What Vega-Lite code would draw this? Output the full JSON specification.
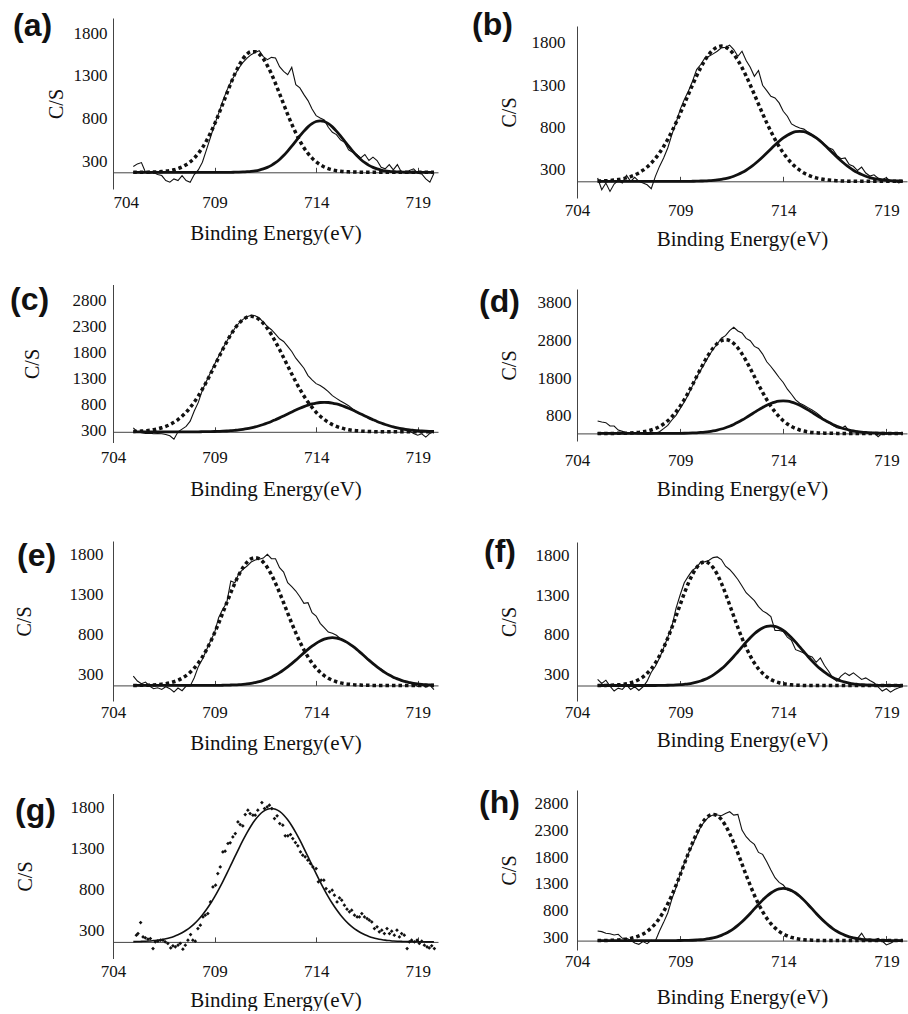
{
  "$schema": "https://vega.github.io/schema/vega-lite/v6.json",
  "background": "white",
  "padding": {"left": 10, "top": 8, "right": 4, "bottom": 0},
  "config": {
    "view": {"stroke": null},
    "axis": {"grid": false, "ticks": false, "domainColor": "#444", "domainWidth": 1, "tickColor": "#444", "labelFont": "Liberation Serif", "labelFontSize": 17, "labelColor": "#111", "titleFont": "Liberation Serif", "titleFontSize": 21, "titleFontWeight": "normal", "titleColor": "#111", "labelOverlap": false, "labelFlush": false, "format": "d"},
    "axisY": {"titleFontSize": 20},
    "axisX": {"ticks": true, "tickSize": -5},
    "title": {"font": "Liberation Sans", "fontSize": 32, "fontWeight": "bold", "anchor": "start", "frame": "group", "color": "#111"},
    "line": {"color": "#111"}
  },
  "datasets": {
    "a": [
      {"E":705.0,"obs":242,"p1":175,"p2":175},{"E":705.2,"obs":273,"p1":175,"p2":175},{"E":705.4,"obs":288,"p1":175,"p2":175},{"E":705.6,"obs":176,"p1":176,"p2":175},{"E":705.8,"obs":164,"p1":177,"p2":175},
      {"E":706.0,"obs":172,"p1":178,"p2":175},{"E":706.2,"obs":148,"p1":180,"p2":175},{"E":706.4,"obs":137,"p1":183,"p2":175},{"E":706.6,"obs":79,"p1":188,"p2":175},{"E":706.8,"obs":59,"p1":194,"p2":175},
      {"E":707.0,"obs":98,"p1":204,"p2":175},{"E":707.2,"obs":79,"p1":218,"p2":175},{"E":707.4,"obs":137,"p1":237,"p2":175},{"E":707.6,"obs":79,"p1":263,"p2":175},{"E":707.8,"obs":59,"p1":297,"p2":175},
      {"E":708.0,"obs":148,"p1":340,"p2":175},{"E":708.2,"obs":203,"p1":395,"p2":175},{"E":708.4,"obs":292,"p1":461,"p2":175},{"E":708.6,"obs":436,"p1":541,"p2":175},{"E":708.8,"obs":584,"p1":633,"p2":175},
      {"E":709.0,"obs":731,"p1":737,"p2":175},{"E":709.2,"obs":863,"p1":850,"p2":175},{"E":709.4,"obs":1003,"p1":970,"p2":175},{"E":709.6,"obs":1128,"p1":1092,"p2":175},{"E":709.8,"obs":1225,"p1":1211,"p2":175},
      {"E":710.0,"obs":1314,"p1":1323,"p2":176},{"E":710.2,"obs":1392,"p1":1420,"p2":177},{"E":710.4,"obs":1458,"p1":1499,"p2":179},{"E":710.6,"obs":1508,"p1":1554,"p2":182},{"E":710.8,"obs":1547,"p1":1582,"p2":186},
      {"E":711.0,"obs":1574,"p1":1582,"p2":192},{"E":711.2,"obs":1594,"p1":1554,"p2":201},{"E":711.4,"obs":1524,"p1":1499,"p2":214},{"E":711.6,"obs":1489,"p1":1420,"p2":232},{"E":711.8,"obs":1516,"p1":1323,"p2":256},
      {"E":712.0,"obs":1508,"p1":1211,"p2":287},{"E":712.2,"obs":1407,"p1":1092,"p2":325},{"E":712.4,"obs":1353,"p1":970,"p2":370},{"E":712.6,"obs":1314,"p1":850,"p2":422},{"E":712.8,"obs":1399,"p1":737,"p2":479},
      {"E":713.0,"obs":1197,"p1":633,"p2":539},{"E":713.2,"obs":1159,"p1":541,"p2":599},{"E":713.4,"obs":1081,"p1":461,"p2":655},{"E":713.6,"obs":1011,"p1":395,"p2":705},{"E":713.8,"obs":914,"p1":340,"p2":743},
      {"E":714.0,"obs":836,"p1":297,"p2":767},{"E":714.2,"obs":809,"p1":263,"p2":775},{"E":714.4,"obs":786,"p1":237,"p2":767},{"E":714.6,"obs":700,"p1":218,"p2":743},{"E":714.8,"obs":642,"p1":204,"p2":705},
      {"E":715.0,"obs":615,"p1":194,"p2":655},{"E":715.2,"obs":553,"p1":188,"p2":599},{"E":715.4,"obs":525,"p1":183,"p2":539},{"E":715.6,"obs":436,"p1":180,"p2":479},{"E":715.8,"obs":409,"p1":178,"p2":422},
      {"E":716.0,"obs":382,"p1":177,"p2":370},{"E":716.2,"obs":343,"p1":176,"p2":325},{"E":716.4,"obs":382,"p1":175,"p2":287},{"E":716.6,"obs":312,"p1":175,"p2":256},{"E":716.8,"obs":351,"p1":175,"p2":232},
      {"E":717.0,"obs":312,"p1":175,"p2":214},{"E":717.2,"obs":234,"p1":175,"p2":201},{"E":717.4,"obs":215,"p1":175,"p2":192},{"E":717.6,"obs":265,"p1":175,"p2":186},{"E":717.8,"obs":203,"p1":175,"p2":182},
      {"E":718.0,"obs":265,"p1":175,"p2":179},{"E":718.2,"obs":176,"p1":175,"p2":177},{"E":718.4,"obs":164,"p1":175,"p2":176},{"E":718.6,"obs":195,"p1":175,"p2":175},{"E":718.8,"obs":215,"p1":175,"p2":175},
      {"E":719.0,"obs":164,"p1":175,"p2":175},{"E":719.2,"obs":156,"p1":175,"p2":175},{"E":719.4,"obs":98,"p1":175,"p2":175},{"E":719.6,"obs":59,"p1":175,"p2":175},{"E":719.8,"obs":164,"p1":175,"p2":175}
    ],
    "b": [
      {"E":705.0,"obs":201,"p1":165,"p2":162},{"E":705.2,"obs":63,"p1":167,"p2":162},{"E":705.4,"obs":142,"p1":169,"p2":162},{"E":705.6,"obs":43,"p1":172,"p2":162},{"E":705.8,"obs":130,"p1":177,"p2":162},
      {"E":706.0,"obs":170,"p1":183,"p2":162},{"E":706.2,"obs":142,"p1":192,"p2":162},{"E":706.4,"obs":233,"p1":203,"p2":162},{"E":706.6,"obs":162,"p1":218,"p2":162},{"E":706.8,"obs":209,"p1":238,"p2":162},
      {"E":707.0,"obs":162,"p1":262,"p2":162},{"E":707.2,"obs":142,"p1":294,"p2":162},{"E":707.4,"obs":122,"p1":332,"p2":162},{"E":707.6,"obs":75,"p1":378,"p2":162},{"E":707.8,"obs":221,"p1":434,"p2":162},
      {"E":708.0,"obs":339,"p1":499,"p2":162},{"E":708.2,"obs":438,"p1":574,"p2":162},{"E":708.4,"obs":557,"p1":659,"p2":162},{"E":708.6,"obs":715,"p1":753,"p2":162},{"E":708.8,"obs":853,"p1":854,"p2":162},
      {"E":709.0,"obs":1011,"p1":963,"p2":162},{"E":709.2,"obs":1129,"p1":1075,"p2":162},{"E":709.4,"obs":1228,"p1":1190,"p2":162},{"E":709.6,"obs":1346,"p1":1302,"p2":163},{"E":709.8,"obs":1484,"p1":1409,"p2":164},
      {"E":710.0,"obs":1544,"p1":1508,"p2":166},{"E":710.2,"obs":1623,"p1":1594,"p2":167},{"E":710.4,"obs":1642,"p1":1665,"p2":170},{"E":710.6,"obs":1670,"p1":1718,"p2":174},{"E":710.8,"obs":1701,"p1":1751,"p2":179},
      {"E":711.0,"obs":1741,"p1":1762,"p2":186},{"E":711.2,"obs":1749,"p1":1751,"p2":195},{"E":711.4,"obs":1773,"p1":1718,"p2":207},{"E":711.6,"obs":1721,"p1":1665,"p2":223},{"E":711.8,"obs":1642,"p1":1594,"p2":242},
      {"E":712.0,"obs":1701,"p1":1508,"p2":266},{"E":712.2,"obs":1591,"p1":1409,"p2":294},{"E":712.4,"obs":1512,"p1":1302,"p2":327},{"E":712.6,"obs":1405,"p1":1190,"p2":364},{"E":712.8,"obs":1473,"p1":1075,"p2":405},
      {"E":713.0,"obs":1299,"p1":963,"p2":450},{"E":713.2,"obs":1236,"p1":854,"p2":497},{"E":713.4,"obs":1169,"p1":753,"p2":545},{"E":713.6,"obs":1149,"p1":659,"p2":592},{"E":713.8,"obs":1090,"p1":574,"p2":636},
      {"E":714.0,"obs":991,"p1":499,"p2":675},{"E":714.2,"obs":932,"p1":434,"p2":708},{"E":714.4,"obs":841,"p1":378,"p2":733},{"E":714.6,"obs":813,"p1":332,"p2":749},{"E":714.8,"obs":793,"p1":294,"p2":754},
      {"E":715.0,"obs":780,"p1":262,"p2":749},{"E":715.2,"obs":745,"p1":238,"p2":733},{"E":715.4,"obs":715,"p1":218,"p2":708},{"E":715.6,"obs":680,"p1":203,"p2":675},{"E":715.8,"obs":650,"p1":192,"p2":636},
      {"E":716.0,"obs":600,"p1":183,"p2":592},{"E":716.2,"obs":560,"p1":177,"p2":545},{"E":716.4,"obs":540,"p1":172,"p2":497},{"E":716.6,"obs":470,"p1":169,"p2":450},{"E":716.8,"obs":430,"p1":167,"p2":405},
      {"E":717.0,"obs":440,"p1":165,"p2":364},{"E":717.2,"obs":360,"p1":164,"p2":327},{"E":717.4,"obs":340,"p1":163,"p2":294},{"E":717.6,"obs":290,"p1":162,"p2":266},{"E":717.8,"obs":330,"p1":162,"p2":242},
      {"E":718.0,"obs":260,"p1":162,"p2":223},{"E":718.2,"obs":225,"p1":162,"p2":207},{"E":718.4,"obs":240,"p1":162,"p2":195},{"E":718.6,"obs":200,"p1":162,"p2":186},{"E":718.8,"obs":185,"p1":162,"p2":179},
      {"E":719.0,"obs":205,"p1":162,"p2":174},{"E":719.2,"obs":160,"p1":162,"p2":170},{"E":719.4,"obs":170,"p1":162,"p2":167},{"E":719.6,"obs":145,"p1":162,"p2":166},{"E":719.8,"obs":160,"p1":162,"p2":164}
    ],
    "c": [
      {"E":705.0,"obs":358,"p1":287,"p2":280},{"E":705.2,"obs":281,"p1":290,"p2":280},{"E":705.4,"obs":261,"p1":294,"p2":280},{"E":705.6,"obs":249,"p1":301,"p2":280},{"E":705.8,"obs":255,"p1":309,"p2":280},
      {"E":706.0,"obs":242,"p1":321,"p2":280},{"E":706.2,"obs":249,"p1":337,"p2":280},{"E":706.4,"obs":242,"p1":358,"p2":280},{"E":706.6,"obs":229,"p1":385,"p2":280},{"E":706.8,"obs":204,"p1":419,"p2":280},
      {"E":707.0,"obs":139,"p1":462,"p2":280},{"E":707.2,"obs":281,"p1":516,"p2":280},{"E":707.4,"obs":332,"p1":580,"p2":280},{"E":707.6,"obs":384,"p1":657,"p2":280},{"E":707.8,"obs":486,"p1":748,"p2":280},
      {"E":708.0,"obs":679,"p1":851,"p2":281},{"E":708.2,"obs":846,"p1":969,"p2":281},{"E":708.4,"obs":1080,"p1":1099,"p2":282},{"E":708.6,"obs":1250,"p1":1240,"p2":283},{"E":708.8,"obs":1420,"p1":1390,"p2":284},
      {"E":709.0,"obs":1580,"p1":1546,"p2":286},{"E":709.2,"obs":1730,"p1":1704,"p2":289},{"E":709.4,"obs":1880,"p1":1860,"p2":292},{"E":709.6,"obs":2020,"p1":2009,"p2":296},{"E":709.8,"obs":2150,"p1":2146,"p2":302},
      {"E":710.0,"obs":2270,"p1":2266,"p2":309},{"E":710.2,"obs":2370,"p1":2364,"p2":317},{"E":710.4,"obs":2440,"p1":2437,"p2":328},{"E":710.6,"obs":2490,"p1":2483,"p2":341},{"E":710.8,"obs":2520,"p1":2498,"p2":357},
      {"E":711.0,"obs":2510,"p1":2483,"p2":375},{"E":711.2,"obs":2466,"p1":2437,"p2":397},{"E":711.4,"obs":2389,"p1":2364,"p2":421},{"E":711.6,"obs":2305,"p1":2266,"p2":449},{"E":711.8,"obs":2241,"p1":2146,"p2":479},
      {"E":712.0,"obs":2157,"p1":2009,"p2":513},{"E":712.2,"obs":2067,"p1":1860,"p2":548},{"E":712.4,"obs":2016,"p1":1704,"p2":585},{"E":712.6,"obs":1920,"p1":1546,"p2":623},{"E":712.8,"obs":1823,"p1":1390,"p2":661},
      {"E":713.0,"obs":1695,"p1":1240,"p2":698},{"E":713.2,"obs":1598,"p1":1099,"p2":733},{"E":713.4,"obs":1502,"p1":969,"p2":765},{"E":713.6,"obs":1360,"p1":851,"p2":793},{"E":713.8,"obs":1277,"p1":748,"p2":815},
      {"E":714.0,"obs":1206,"p1":657,"p2":832},{"E":714.2,"obs":1168,"p1":580,"p2":843},{"E":714.4,"obs":1116,"p1":516,"p2":846},{"E":714.6,"obs":1052,"p1":462,"p2":843},{"E":714.8,"obs":975,"p1":419,"p2":832},
      {"E":715.0,"obs":923,"p1":385,"p2":815},{"E":715.2,"obs":872,"p1":358,"p2":793},{"E":715.4,"obs":827,"p1":337,"p2":765},{"E":715.6,"obs":782,"p1":321,"p2":733},{"E":715.8,"obs":718,"p1":309,"p2":698},
      {"E":716.0,"obs":666,"p1":301,"p2":661},{"E":716.2,"obs":621,"p1":294,"p2":623},{"E":716.4,"obs":583,"p1":290,"p2":585},{"E":716.6,"obs":538,"p1":287,"p2":548},{"E":716.8,"obs":506,"p1":284,"p2":513},
      {"E":717.0,"obs":474,"p1":283,"p2":479},{"E":717.2,"obs":448,"p1":282,"p2":449},{"E":717.4,"obs":422,"p1":281,"p2":421},{"E":717.6,"obs":396,"p1":280,"p2":397},{"E":717.8,"obs":377,"p1":280,"p2":375},
      {"E":718.0,"obs":358,"p1":280,"p2":357},{"E":718.2,"obs":332,"p1":280,"p2":341},{"E":718.4,"obs":313,"p1":280,"p2":328},{"E":718.6,"obs":294,"p1":280,"p2":317},{"E":718.8,"obs":249,"p1":280,"p2":309},
      {"E":719.0,"obs":216,"p1":280,"p2":302},{"E":719.2,"obs":242,"p1":280,"p2":296},{"E":719.4,"obs":178,"p1":280,"p2":292},{"E":719.6,"obs":249,"p1":280,"p2":289},{"E":719.8,"obs":281,"p1":280,"p2":286}
    ],
    "d": [
      {"E":705.0,"obs":668,"p1":340,"p2":340},{"E":705.2,"obs":641,"p1":340,"p2":340},{"E":705.4,"obs":623,"p1":340,"p2":340},{"E":705.6,"obs":535,"p1":340,"p2":340},{"E":705.8,"obs":535,"p1":341,"p2":340},
      {"E":706.0,"obs":429,"p1":342,"p2":340},{"E":706.2,"obs":394,"p1":344,"p2":340},{"E":706.4,"obs":359,"p1":347,"p2":340},{"E":706.6,"obs":359,"p1":351,"p2":340},{"E":706.8,"obs":341,"p1":358,"p2":340},
      {"E":707.0,"obs":332,"p1":367,"p2":340},{"E":707.2,"obs":323,"p1":382,"p2":340},{"E":707.4,"obs":315,"p1":402,"p2":340},{"E":707.6,"obs":323,"p1":431,"p2":340},{"E":707.8,"obs":341,"p1":470,"p2":340},
      {"E":708.0,"obs":385,"p1":521,"p2":340},{"E":708.2,"obs":465,"p1":589,"p2":340},{"E":708.4,"obs":553,"p1":674,"p2":340},{"E":708.6,"obs":694,"p1":780,"p2":341},{"E":708.8,"obs":818,"p1":909,"p2":342},
      {"E":709.0,"obs":994,"p1":1059,"p2":343},{"E":709.2,"obs":1171,"p1":1230,"p2":345},{"E":709.4,"obs":1365,"p1":1423,"p2":348},{"E":709.6,"obs":1594,"p1":1625,"p2":352},{"E":709.8,"obs":1820,"p1":1841,"p2":357},
      {"E":710.0,"obs":2010,"p1":2053,"p2":365},{"E":710.2,"obs":2200,"p1":2256,"p2":375},{"E":710.4,"obs":2390,"p1":2439,"p2":388},{"E":710.6,"obs":2560,"p1":2594,"p2":406},{"E":710.8,"obs":2700,"p1":2713,"p2":428},
      {"E":711.0,"obs":2850,"p1":2787,"p2":456},{"E":711.2,"obs":2918,"p1":2812,"p2":490},{"E":711.4,"obs":3051,"p1":2787,"p2":531},{"E":711.6,"obs":3139,"p1":2713,"p2":578},{"E":711.8,"obs":3042,"p1":2594,"p2":632},
      {"E":712.0,"obs":2989,"p1":2439,"p2":692},{"E":712.2,"obs":2848,"p1":2256,"p2":757},{"E":712.4,"obs":2786,"p1":2053,"p2":825},{"E":712.6,"obs":2636,"p1":1841,"p2":894},{"E":712.8,"obs":2583,"p1":1625,"p2":962},
      {"E":713.0,"obs":2433,"p1":1423,"p2":1026},{"E":713.2,"obs":2230,"p1":1230,"p2":1083},{"E":713.4,"obs":2106,"p1":1059,"p2":1131},{"E":713.6,"obs":1965,"p1":909,"p2":1167},{"E":713.8,"obs":1815,"p1":780,"p2":1189},
      {"E":714.0,"obs":1683,"p1":674,"p2":1197},{"E":714.2,"obs":1506,"p1":589,"p2":1189},{"E":714.4,"obs":1374,"p1":521,"p2":1167},{"E":714.6,"obs":1224,"p1":470,"p2":1131},{"E":714.8,"obs":1135,"p1":431,"p2":1083},
      {"E":715.0,"obs":1082,"p1":402,"p2":1026},{"E":715.2,"obs":1021,"p1":382,"p2":962},{"E":715.4,"obs":959,"p1":367,"p2":894},{"E":715.6,"obs":888,"p1":358,"p2":825},{"E":715.8,"obs":800,"p1":351,"p2":757},
      {"E":716.0,"obs":694,"p1":347,"p2":692},{"E":716.2,"obs":623,"p1":344,"p2":632},{"E":716.4,"obs":553,"p1":342,"p2":578},{"E":716.6,"obs":491,"p1":341,"p2":531},{"E":716.8,"obs":465,"p1":340,"p2":490},
      {"E":717.0,"obs":535,"p1":340,"p2":456},{"E":717.2,"obs":403,"p1":340,"p2":428},{"E":717.4,"obs":376,"p1":340,"p2":406},{"E":717.6,"obs":394,"p1":340,"p2":388},{"E":717.8,"obs":359,"p1":340,"p2":375},
      {"E":718.0,"obs":376,"p1":340,"p2":365},{"E":718.2,"obs":341,"p1":340,"p2":357},{"E":718.4,"obs":359,"p1":340,"p2":352},{"E":718.6,"obs":253,"p1":340,"p2":348},{"E":718.8,"obs":341,"p1":340,"p2":345},
      {"E":719.0,"obs":323,"p1":340,"p2":343},{"E":719.2,"obs":359,"p1":340,"p2":342},{"E":719.4,"obs":332,"p1":340,"p2":341},{"E":719.6,"obs":345,"p1":340,"p2":340},{"E":719.8,"obs":340,"p1":340,"p2":340}
    ],
    "e": [
      {"E":705.0,"obs":279,"p1":162,"p2":162},{"E":705.2,"obs":217,"p1":162,"p2":162},{"E":705.4,"obs":183,"p1":163,"p2":162},{"E":705.6,"obs":204,"p1":164,"p2":162},{"E":705.8,"obs":154,"p1":166,"p2":162},
      {"E":706.0,"obs":121,"p1":168,"p2":162},{"E":706.2,"obs":133,"p1":172,"p2":162},{"E":706.4,"obs":112,"p1":177,"p2":162},{"E":706.6,"obs":146,"p1":184,"p2":162},{"E":706.8,"obs":121,"p1":194,"p2":162},
      {"E":707.0,"obs":79,"p1":208,"p2":162},{"E":707.2,"obs":129,"p1":226,"p2":162},{"E":707.4,"obs":96,"p1":252,"p2":162},{"E":707.6,"obs":154,"p1":284,"p2":162},{"E":707.8,"obs":154,"p1":326,"p2":162},
      {"E":708.0,"obs":258,"p1":378,"p2":162},{"E":708.2,"obs":396,"p1":442,"p2":162},{"E":708.4,"obs":488,"p1":517,"p2":162},{"E":708.6,"obs":604,"p1":606,"p2":162},{"E":708.8,"obs":717,"p1":706,"p2":162},
      {"E":709.0,"obs":821,"p1":818,"p2":162},{"E":709.2,"obs":1008,"p1":939,"p2":163},{"E":709.4,"obs":1113,"p1":1065,"p2":164},{"E":709.6,"obs":1196,"p1":1195,"p2":165},{"E":709.8,"obs":1467,"p1":1321,"p2":167},
      {"E":710.0,"obs":1446,"p1":1440,"p2":169},{"E":710.2,"obs":1563,"p1":1546,"p2":172},{"E":710.4,"obs":1613,"p1":1635,"p2":176},{"E":710.6,"obs":1654,"p1":1702,"p2":181},{"E":710.8,"obs":1704,"p1":1744,"p2":188},
      {"E":711.0,"obs":1729,"p1":1758,"p2":198},{"E":711.2,"obs":1738,"p1":1744,"p2":209},{"E":711.4,"obs":1754,"p1":1702,"p2":224},{"E":711.6,"obs":1800,"p1":1635,"p2":243},{"E":711.8,"obs":1746,"p1":1546,"p2":265},
      {"E":712.0,"obs":1746,"p1":1440,"p2":291},{"E":712.2,"obs":1633,"p1":1321,"p2":321},{"E":712.4,"obs":1579,"p1":1195,"p2":356},{"E":712.6,"obs":1446,"p1":1065,"p2":394},{"E":712.8,"obs":1396,"p1":939,"p2":435},
      {"E":713.0,"obs":1342,"p1":818,"p2":478},{"E":713.2,"obs":1271,"p1":706,"p2":523},{"E":713.4,"obs":1188,"p1":606,"p2":568},{"E":713.6,"obs":1196,"p1":517,"p2":612},{"E":713.8,"obs":1071,"p1":442,"p2":652},
      {"E":714.0,"obs":1029,"p1":378,"p2":688},{"E":714.2,"obs":938,"p1":326,"p2":717},{"E":714.4,"obs":883,"p1":284,"p2":740},{"E":714.6,"obs":829,"p1":252,"p2":753},{"E":714.8,"obs":813,"p1":226,"p2":758},
      {"E":715.0,"obs":788,"p1":208,"p2":753},{"E":715.2,"obs":745,"p1":194,"p2":740},{"E":715.4,"obs":712,"p1":184,"p2":717},{"E":715.6,"obs":690,"p1":177,"p2":688},{"E":715.8,"obs":648,"p1":172,"p2":652},
      {"E":716.0,"obs":608,"p1":168,"p2":612},{"E":716.2,"obs":575,"p1":166,"p2":568},{"E":716.4,"obs":520,"p1":164,"p2":523},{"E":716.6,"obs":470,"p1":163,"p2":478},{"E":716.8,"obs":440,"p1":162,"p2":435},
      {"E":717.0,"obs":385,"p1":162,"p2":394},{"E":717.2,"obs":368,"p1":162,"p2":356},{"E":717.4,"obs":320,"p1":162,"p2":321},{"E":717.6,"obs":295,"p1":162,"p2":291},{"E":717.8,"obs":255,"p1":162,"p2":265},
      {"E":718.0,"obs":250,"p1":162,"p2":243},{"E":718.2,"obs":215,"p1":162,"p2":224},{"E":718.4,"obs":215,"p1":162,"p2":209},{"E":718.6,"obs":190,"p1":162,"p2":198},{"E":718.8,"obs":180,"p1":162,"p2":188},
      {"E":719.0,"obs":150,"p1":162,"p2":181},{"E":719.2,"obs":170,"p1":162,"p2":176},{"E":719.4,"obs":140,"p1":162,"p2":172},{"E":719.6,"obs":165,"p1":162,"p2":169},{"E":719.8,"obs":110,"p1":162,"p2":167}
    ],
    "f": [
      {"E":705.0,"obs":238,"p1":162,"p2":162},{"E":705.2,"obs":188,"p1":162,"p2":162},{"E":705.4,"obs":229,"p1":163,"p2":162},{"E":705.6,"obs":154,"p1":165,"p2":162},{"E":705.8,"obs":92,"p1":167,"p2":162},
      {"E":706.0,"obs":129,"p1":170,"p2":162},{"E":706.2,"obs":112,"p1":176,"p2":162},{"E":706.4,"obs":171,"p1":184,"p2":162},{"E":706.6,"obs":112,"p1":196,"p2":162},{"E":706.8,"obs":146,"p1":213,"p2":162},
      {"E":707.0,"obs":100,"p1":237,"p2":162},{"E":707.2,"obs":146,"p1":270,"p2":162},{"E":707.4,"obs":217,"p1":315,"p2":162},{"E":707.6,"obs":329,"p1":372,"p2":162},{"E":707.8,"obs":404,"p1":445,"p2":162},
      {"E":708.0,"obs":508,"p1":534,"p2":163},{"E":708.2,"obs":633,"p1":638,"p2":164},{"E":708.4,"obs":771,"p1":758,"p2":165},{"E":708.6,"obs":904,"p1":891,"p2":167},{"E":708.8,"obs":1133,"p1":1033,"p2":169},
      {"E":709.0,"obs":1300,"p1":1177,"p2":172},{"E":709.2,"obs":1454,"p1":1319,"p2":177},{"E":709.4,"obs":1538,"p1":1449,"p2":183},{"E":709.6,"obs":1613,"p1":1560,"p2":192},{"E":709.8,"obs":1646,"p1":1645,"p2":204},
      {"E":710.0,"obs":1717,"p1":1698,"p2":219},{"E":710.2,"obs":1717,"p1":1717,"p2":239},{"E":710.4,"obs":1738,"p1":1698,"p2":263},{"E":710.6,"obs":1771,"p1":1645,"p2":293},{"E":710.8,"obs":1779,"p1":1560,"p2":329},
      {"E":711.0,"obs":1746,"p1":1449,"p2":371},{"E":711.2,"obs":1663,"p1":1319,"p2":418},{"E":711.4,"obs":1621,"p1":1177,"p2":470},{"E":711.6,"obs":1563,"p1":1033,"p2":527},{"E":711.8,"obs":1496,"p1":891,"p2":587},
      {"E":712.0,"obs":1413,"p1":758,"p2":647},{"E":712.2,"obs":1329,"p1":638,"p2":707},{"E":712.4,"obs":1279,"p1":534,"p2":763},{"E":712.6,"obs":1229,"p1":445,"p2":813},{"E":712.8,"obs":1154,"p1":372,"p2":854},
      {"E":713.0,"obs":1100,"p1":315,"p2":886},{"E":713.2,"obs":1071,"p1":270,"p2":905},{"E":713.4,"obs":1029,"p1":237,"p2":912},{"E":713.6,"obs":854,"p1":213,"p2":905},{"E":713.8,"obs":854,"p1":196,"p2":886},
      {"E":714.0,"obs":842,"p1":184,"p2":854},{"E":714.2,"obs":771,"p1":176,"p2":813},{"E":714.4,"obs":729,"p1":170,"p2":763},{"E":714.6,"obs":613,"p1":167,"p2":707},{"E":714.8,"obs":592,"p1":165,"p2":647},
      {"E":715.0,"obs":571,"p1":163,"p2":587},{"E":715.2,"obs":538,"p1":162,"p2":527},{"E":715.4,"obs":521,"p1":162,"p2":470},{"E":715.6,"obs":454,"p1":162,"p2":418},{"E":715.8,"obs":508,"p1":162,"p2":371},
      {"E":716.0,"obs":413,"p1":162,"p2":329},{"E":716.2,"obs":342,"p1":162,"p2":293},{"E":716.4,"obs":258,"p1":162,"p2":263},{"E":716.6,"obs":217,"p1":162,"p2":239},{"E":716.8,"obs":279,"p1":162,"p2":219},
      {"E":717.0,"obs":321,"p1":162,"p2":204},{"E":717.2,"obs":288,"p1":162,"p2":192},{"E":717.4,"obs":321,"p1":162,"p2":183},{"E":717.6,"obs":279,"p1":162,"p2":177},{"E":717.8,"obs":238,"p1":162,"p2":172},
      {"E":718.0,"obs":258,"p1":162,"p2":169},{"E":718.2,"obs":225,"p1":162,"p2":167},{"E":718.4,"obs":196,"p1":162,"p2":165},{"E":718.6,"obs":146,"p1":162,"p2":164},{"E":718.8,"obs":92,"p1":162,"p2":163},
      {"E":719.0,"obs":121,"p1":162,"p2":162},{"E":719.2,"obs":79,"p1":162,"p2":162},{"E":719.4,"obs":112,"p1":162,"p2":162},{"E":719.6,"obs":133,"p1":162,"p2":162},{"E":719.8,"obs":150,"p1":162,"p2":162}
    ],
    "g_dots": [
      {"E":705.15,"obs":239},{"E":705.23,"obs":259},{"E":705.36,"obs":394},{"E":705.48,"obs":218},{"E":705.59,"obs":206},{"E":705.72,"obs":190},{"E":705.84,"obs":198},{"E":705.97,"obs":75},
      {"E":706.08,"obs":157},{"E":706.21,"obs":165},{"E":706.34,"obs":177},{"E":706.46,"obs":177},{"E":706.57,"obs":157},{"E":706.70,"obs":137},{"E":706.84,"obs":83},{"E":706.95,"obs":108},
      {"E":707.07,"obs":96},{"E":707.20,"obs":116},{"E":707.31,"obs":137},{"E":707.44,"obs":67},{"E":707.56,"obs":116},{"E":707.69,"obs":177},{"E":707.82,"obs":247},{"E":707.93,"obs":177},
      {"E":708.05,"obs":165},{"E":708.18,"obs":320},{"E":708.30,"obs":361},{"E":708.43,"obs":463},{"E":708.54,"obs":484},{"E":708.67,"obs":504},{"E":708.80,"obs":647},{"E":708.92,"obs":831},
      {"E":709.05,"obs":852},{"E":709.16,"obs":995},{"E":709.28,"obs":1076},{"E":709.41,"obs":1260},{"E":709.52,"obs":1269},{"E":709.66,"obs":1363},{"E":709.77,"obs":1371},{"E":709.90,"obs":1444},
      {"E":710.02,"obs":1485},{"E":710.15,"obs":1628},{"E":710.26,"obs":1595},{"E":710.39,"obs":1579},{"E":710.51,"obs":1718},{"E":710.64,"obs":1771},{"E":710.75,"obs":1730},{"E":710.89,"obs":1710},
      {"E":711.00,"obs":1710},{"E":711.13,"obs":1771},{"E":711.33,"obs":1865},{"E":711.46,"obs":1792},{"E":711.59,"obs":1812},{"E":711.70,"obs":1832},{"E":711.82,"obs":1792},{"E":711.95,"obs":1669},
      {"E":712.08,"obs":1702},{"E":712.21,"obs":1608},{"E":712.36,"obs":1587},{"E":712.48,"obs":1457},{"E":712.61,"obs":1457},{"E":712.74,"obs":1473},{"E":712.85,"obs":1424},{"E":712.98,"obs":1375},
      {"E":713.10,"obs":1334},{"E":713.23,"obs":1260},{"E":713.34,"obs":1219},{"E":713.46,"obs":1199},{"E":713.59,"obs":1158},{"E":713.72,"obs":1117},{"E":713.84,"obs":1076},{"E":714.00,"obs":1056},
      {"E":714.11,"obs":893},{"E":714.25,"obs":913},{"E":714.38,"obs":913},{"E":714.49,"obs":811},{"E":714.66,"obs":770},{"E":714.79,"obs":790},{"E":714.90,"obs":729},{"E":715.03,"obs":647},
      {"E":715.15,"obs":696},{"E":715.26,"obs":668},{"E":715.39,"obs":606},{"E":715.52,"obs":557},{"E":715.64,"obs":525},{"E":715.75,"obs":545},{"E":715.89,"obs":484},{"E":716.02,"obs":463},
      {"E":716.13,"obs":463},{"E":716.25,"obs":504},{"E":716.38,"obs":463},{"E":716.51,"obs":443},{"E":716.62,"obs":423},{"E":716.74,"obs":402},{"E":716.87,"obs":320},{"E":717.00,"obs":341},
      {"E":717.11,"obs":280},{"E":717.23,"obs":300},{"E":717.36,"obs":259},{"E":717.49,"obs":320},{"E":717.61,"obs":259},{"E":717.72,"obs":288},{"E":717.85,"obs":239},{"E":717.98,"obs":300},
      {"E":718.10,"obs":218},{"E":718.21,"obs":259},{"E":718.34,"obs":239},{"E":718.48,"obs":75},{"E":718.59,"obs":157},{"E":718.70,"obs":177},{"E":718.84,"obs":157},{"E":718.97,"obs":177},
      {"E":719.08,"obs":137},{"E":719.20,"obs":165},{"E":719.33,"obs":116},{"E":719.46,"obs":96},{"E":719.57,"obs":83},{"E":719.69,"obs":108},{"E":719.82,"obs":75}
    ],
    "g_fit": [
      {"E":705.0,"fit":160},{"E":705.2,"fit":161},{"E":705.4,"fit":163},{"E":705.6,"fit":165},{"E":705.8,"fit":168},{"E":706.0,"fit":173},{"E":706.2,"fit":178},{"E":706.4,"fit":186},
      {"E":706.6,"fit":196},{"E":706.8,"fit":208},{"E":707.0,"fit":224},{"E":707.2,"fit":244},{"E":707.4,"fit":269},{"E":707.6,"fit":299},{"E":707.8,"fit":335},{"E":708.0,"fit":378},
      {"E":708.2,"fit":429},{"E":708.4,"fit":487},{"E":708.6,"fit":553},{"E":708.8,"fit":627},{"E":709.0,"fit":709},{"E":709.2,"fit":798},{"E":709.4,"fit":893},{"E":709.6,"fit":993},
      {"E":709.8,"fit":1097},{"E":710.0,"fit":1201},{"E":710.2,"fit":1304},{"E":710.4,"fit":1403},{"E":710.6,"fit":1496},{"E":710.8,"fit":1581},{"E":711.0,"fit":1653},{"E":711.2,"fit":1713},
      {"E":711.4,"fit":1756},{"E":711.6,"fit":1783},{"E":711.8,"fit":1792},{"E":712.0,"fit":1783},{"E":712.2,"fit":1756},{"E":712.4,"fit":1713},{"E":712.6,"fit":1653},{"E":712.8,"fit":1581},
      {"E":713.0,"fit":1496},{"E":713.2,"fit":1403},{"E":713.4,"fit":1304},{"E":713.6,"fit":1201},{"E":713.8,"fit":1097},{"E":714.0,"fit":993},{"E":714.2,"fit":893},{"E":714.4,"fit":798},
      {"E":714.6,"fit":709},{"E":714.8,"fit":627},{"E":715.0,"fit":553},{"E":715.2,"fit":487},{"E":715.4,"fit":429},{"E":715.6,"fit":378},{"E":715.8,"fit":335},{"E":716.0,"fit":299},
      {"E":716.2,"fit":269},{"E":716.4,"fit":244},{"E":716.6,"fit":224},{"E":716.8,"fit":208},{"E":717.0,"fit":196},{"E":717.2,"fit":186},{"E":717.4,"fit":178},{"E":717.6,"fit":173},
      {"E":717.8,"fit":168},{"E":718.0,"fit":165},{"E":718.2,"fit":163},{"E":718.4,"fit":161},{"E":718.6,"fit":160},{"E":718.8,"fit":159},{"E":719.0,"fit":158},{"E":719.2,"fit":158},
      {"E":719.4,"fit":157},{"E":719.6,"fit":157},{"E":719.8,"fit":157}
    ],
    "h": [
      {"E":705.0,"obs":424,"p1":245,"p2":245},{"E":705.2,"obs":412,"p1":246,"p2":245},{"E":705.4,"obs":381,"p1":247,"p2":245},{"E":705.6,"obs":374,"p1":249,"p2":245},{"E":705.8,"obs":350,"p1":252,"p2":245},
      {"E":706.0,"obs":362,"p1":256,"p2":245},{"E":706.2,"obs":288,"p1":262,"p2":245},{"E":706.4,"obs":288,"p1":271,"p2":245},{"E":706.6,"obs":250,"p1":285,"p2":245},{"E":706.8,"obs":201,"p1":304,"p2":245},
      {"E":707.0,"obs":176,"p1":331,"p2":245},{"E":707.2,"obs":226,"p1":368,"p2":245},{"E":707.4,"obs":188,"p1":417,"p2":245},{"E":707.6,"obs":250,"p1":482,"p2":245},{"E":707.8,"obs":238,"p1":562,"p2":245},
      {"E":708.0,"obs":424,"p1":663,"p2":245},{"E":708.2,"obs":585,"p1":786,"p2":245},{"E":708.4,"obs":759,"p1":929,"p2":245},{"E":708.6,"obs":1020,"p1":1091,"p2":245},{"E":708.8,"obs":1231,"p1":1274,"p2":246},
      {"E":709.0,"obs":1479,"p1":1467,"p2":247},{"E":709.2,"obs":1683,"p1":1671,"p2":248},{"E":709.4,"obs":1869,"p1":1874,"p2":249},{"E":709.6,"obs":2025,"p1":2066,"p2":252},{"E":709.8,"obs":2198,"p1":2240,"p2":256},
      {"E":710.0,"obs":2366,"p1":2388,"p2":261},{"E":710.2,"obs":2471,"p1":2501,"p2":269},{"E":710.4,"obs":2552,"p1":2572,"p2":281},{"E":710.6,"obs":2583,"p1":2595,"p2":296},{"E":710.8,"obs":2583,"p1":2572,"p2":316},
      {"E":711.0,"obs":2571,"p1":2501,"p2":343},{"E":711.2,"obs":2614,"p1":2388,"p2":376},{"E":711.4,"obs":2645,"p1":2240,"p2":418},{"E":711.6,"obs":2583,"p1":2066,"p2":469},{"E":711.8,"obs":2595,"p1":1874,"p2":528},
      {"E":712.0,"obs":2304,"p1":1671,"p2":595},{"E":712.2,"obs":2180,"p1":1467,"p2":671},{"E":712.4,"obs":2099,"p1":1274,"p2":751},{"E":712.6,"obs":2037,"p1":1091,"p2":836},{"E":712.8,"obs":1888,"p1":929,"p2":919},
      {"E":713.0,"obs":1851,"p1":786,"p2":999},{"E":713.2,"obs":1714,"p1":663,"p2":1071},{"E":713.4,"obs":1559,"p1":562,"p2":1132},{"E":713.6,"obs":1417,"p1":482,"p2":1179},{"E":713.8,"obs":1330,"p1":417,"p2":1208},
      {"E":714.0,"obs":1280,"p1":368,"p2":1218},{"E":714.2,"obs":1187,"p1":331,"p2":1208},{"E":714.4,"obs":1160,"p1":304,"p2":1179},{"E":714.6,"obs":1140,"p1":285,"p2":1132},{"E":714.8,"obs":1080,"p1":271,"p2":1071},
      {"E":715.0,"obs":1005,"p1":262,"p2":999},{"E":715.2,"obs":930,"p1":256,"p2":919},{"E":715.4,"obs":845,"p1":252,"p2":836},{"E":715.6,"obs":760,"p1":249,"p2":751},{"E":715.8,"obs":680,"p1":247,"p2":671},
      {"E":716.0,"obs":610,"p1":246,"p2":595},{"E":716.2,"obs":535,"p1":245,"p2":528},{"E":716.4,"obs":470,"p1":245,"p2":469},{"E":716.6,"obs":420,"p1":245,"p2":418},{"E":716.8,"obs":380,"p1":245,"p2":376},
      {"E":717.0,"obs":345,"p1":245,"p2":343},{"E":717.2,"obs":320,"p1":245,"p2":316},{"E":717.4,"obs":300,"p1":245,"p2":296},{"E":717.6,"obs":285,"p1":245,"p2":281},{"E":717.8,"obs":381,"p1":245,"p2":269},
      {"E":718.0,"obs":262,"p1":245,"p2":261},{"E":718.2,"obs":275,"p1":245,"p2":256},{"E":718.4,"obs":250,"p1":245,"p2":252},{"E":718.6,"obs":288,"p1":245,"p2":249},{"E":718.8,"obs":238,"p1":245,"p2":248},
      {"E":719.0,"obs":164,"p1":245,"p2":247},{"E":719.2,"obs":195,"p1":245,"p2":246},{"E":719.4,"obs":238,"p1":245,"p2":245},{"E":719.6,"obs":257,"p1":245,"p2":245},{"E":719.8,"obs":240,"p1":245,"p2":245}
    ]
  },
  "hconcat": [
    {
      "spacing": 39.5,
      "vconcat": [
        {
          "spacing": 0,
          "vconcat": [
            {"width": 1, "height": 2, "data": {"values": [{}]}, "mark": {"type": "rect", "opacity": 0}},
            {
              "width": 325, "height": 171,
              "title": {"text": "(a)", "dx": -100, "offset": -25},
              "data": {"name": "a"},
              "encoding": {"x": {"field": "E", "type": "quantitative", "scale": {"domain": [704, 720], "nice": false, "zero": false},
                "axis": {"values": [704, 709, 714, 719], "format": "d", "labelOverlap": false, "labelFont": "Liberation Serif", "labelFontSize": 17, "titleFont": "Liberation Serif", "titleFontSize": 21, "title": "Binding Energy(eV)", "offset": -16.7, "labelPadding": 27, "titlePadding": 12, "labelFlush": true}}},
              "layer": [
                {"mark": {"type": "line", "strokeWidth": 1.1}, "encoding": {"y": {"field": "obs", "type": "quantitative", "scale": {"domain": [-20, 1975], "nice": false, "zero": false}, "axis": {"values": [300, 800, 1300, 1800], "format": "d", "labelOverlap": false, "labelFont": "Liberation Serif", "labelFontSize": 17, "titleFont": "Liberation Serif", "titleFontSize": 20, "title": "C/S", "labelPadding": 6, "titlePadding": 7}}}},
                {"mark": {"type": "line", "strokeWidth": 3.5, "strokeDash": [3.5, 3], "interpolate": "monotone"}, "encoding": {"y": {"field": "p1", "type": "quantitative", "scale": {"domain": [-20, 1975], "nice": false, "zero": false}, "axis": {"values": [300, 800, 1300, 1800], "format": "d", "labelOverlap": false, "labelFont": "Liberation Serif", "labelFontSize": 17, "titleFont": "Liberation Serif", "titleFontSize": 20, "title": "C/S", "labelPadding": 6, "titlePadding": 7}}}},
                {"mark": {"type": "line", "strokeWidth": 2.8, "interpolate": "monotone"}, "encoding": {"y": {"field": "p2", "type": "quantitative", "scale": {"domain": [-20, 1975], "nice": false, "zero": false}, "axis": {"values": [300, 800, 1300, 1800], "format": "d", "labelOverlap": false, "labelFont": "Liberation Serif", "labelFontSize": 17, "titleFont": "Liberation Serif", "titleFontSize": 20, "title": "C/S", "labelPadding": 6, "titlePadding": 7}}}}
              ]
            }
          ]
        },
        {
          "width": 325, "height": 158,
          "title": {"text": "(c)", "dx": -103, "offset": -32},
          "data": {"name": "c"},
          "encoding": {"x": {"field": "E", "type": "quantitative", "scale": {"domain": [704, 720], "nice": false, "zero": false},
            "axis": {"values": [704, 709, 714, 719], "format": "d", "labelOverlap": false, "labelFont": "Liberation Serif", "labelFontSize": 17, "titleFont": "Liberation Serif", "titleFontSize": 21, "title": "Binding Energy(eV)", "offset": -10.7, "labelPadding": 23, "titlePadding": 13}}},
          "layer": [
            {"mark": {"type": "line", "strokeWidth": 1.1}, "encoding": {"y": {"field": "obs", "type": "quantitative", "scale": {"domain": [75, 3110], "nice": false, "zero": false}, "axis": {"values": [300, 800, 1300, 1800, 2300, 2800], "format": "d", "labelOverlap": false, "labelFont": "Liberation Serif", "labelFontSize": 17, "titleFont": "Liberation Serif", "titleFontSize": 20, "title": "C/S", "labelPadding": 7, "titlePadding": 30}}}},
            {"mark": {"type": "line", "strokeWidth": 3.5, "strokeDash": [3.5, 3], "interpolate": "monotone"}, "encoding": {"y": {"field": "p1", "type": "quantitative", "scale": {"domain": [75, 3110], "nice": false, "zero": false}, "axis": {"values": [300, 800, 1300, 1800, 2300, 2800], "format": "d", "labelOverlap": false, "labelFont": "Liberation Serif", "labelFontSize": 17, "titleFont": "Liberation Serif", "titleFontSize": 20, "title": "C/S", "labelPadding": 7, "titlePadding": 30}}}},
            {"mark": {"type": "line", "strokeWidth": 2.8, "interpolate": "monotone"}, "encoding": {"y": {"field": "p2", "type": "quantitative", "scale": {"domain": [75, 3110], "nice": false, "zero": false}, "axis": {"values": [300, 800, 1300, 1800, 2300, 2800], "format": "d", "labelOverlap": false, "labelFont": "Liberation Serif", "labelFontSize": 17, "titleFont": "Liberation Serif", "titleFontSize": 20, "title": "C/S", "labelPadding": 7, "titlePadding": 30}}}}
          ]
        },
        {
          "width": 325, "height": 160,
          "title": {"text": "(e)", "dx": -96, "offset": -32},
          "data": {"name": "e"},
          "encoding": {"x": {"field": "E", "type": "quantitative", "scale": {"domain": [704, 720], "nice": false, "zero": false},
            "axis": {"values": [704, 709, 714, 719], "format": "d", "labelOverlap": false, "labelFont": "Liberation Serif", "labelFontSize": 17, "titleFont": "Liberation Serif", "titleFontSize": 21, "title": "Binding Energy(eV)", "offset": -15.6, "labelPadding": 24, "titlePadding": 12}}},
          "layer": [
            {"mark": {"type": "line", "strokeWidth": 1.1}, "encoding": {"y": {"field": "obs", "type": "quantitative", "scale": {"domain": [-33, 1967], "nice": false, "zero": false}, "axis": {"values": [300, 800, 1300, 1800], "format": "d", "labelOverlap": false, "labelFont": "Liberation Serif", "labelFontSize": 17, "titleFont": "Liberation Serif", "titleFontSize": 20, "title": "C/S", "labelPadding": 10, "titlePadding": 35}}}},
            {"mark": {"type": "line", "strokeWidth": 3.5, "strokeDash": [3.5, 3], "interpolate": "monotone"}, "encoding": {"y": {"field": "p1", "type": "quantitative", "scale": {"domain": [-33, 1967], "nice": false, "zero": false}, "axis": {"values": [300, 800, 1300, 1800], "format": "d", "labelOverlap": false, "labelFont": "Liberation Serif", "labelFontSize": 17, "titleFont": "Liberation Serif", "titleFontSize": 20, "title": "C/S", "labelPadding": 10, "titlePadding": 35}}}},
            {"mark": {"type": "line", "strokeWidth": 2.8, "interpolate": "monotone"}, "encoding": {"y": {"field": "p2", "type": "quantitative", "scale": {"domain": [-33, 1967], "nice": false, "zero": false}, "axis": {"values": [300, 800, 1300, 1800], "format": "d", "labelOverlap": false, "labelFont": "Liberation Serif", "labelFontSize": 17, "titleFont": "Liberation Serif", "titleFontSize": 20, "title": "C/S", "labelPadding": 10, "titlePadding": 35}}}}
          ]
        },
        {
          "width": 325, "height": 165,
          "title": {"text": "(g)", "dx": -98, "offset": -34},
          "encoding": {"x": {"field": "E", "type": "quantitative", "scale": {"domain": [704, 720], "nice": false, "zero": false},
            "axis": {"values": [704, 709, 714, 719], "format": "d", "labelOverlap": false, "labelFont": "Liberation Serif", "labelFontSize": 17, "titleFont": "Liberation Serif", "titleFontSize": 21, "title": "Binding Energy(eV)", "offset": -16.6, "labelPadding": 27, "titlePadding": 10}}},
          "layer": [
            {"data": {"name": "g_dots"}, "mark": {"type": "point", "shape": "diamond", "filled": true, "size": 14, "opacity": 1, "color": "#111"}, "encoding": {"y": {"field": "obs", "type": "quantitative", "scale": {"domain": [-47, 1976], "nice": false, "zero": false}, "axis": {"values": [300, 800, 1300, 1800], "format": "d", "labelOverlap": false, "labelFont": "Liberation Serif", "labelFontSize": 17, "titleFont": "Liberation Serif", "titleFontSize": 20, "title": "C/S", "labelPadding": 9, "titlePadding": 35}}}},
            {"data": {"name": "g_fit"}, "mark": {"type": "line", "strokeWidth": 1.6, "interpolate": "monotone"}, "encoding": {"y": {"field": "fit", "type": "quantitative", "scale": {"domain": [-47, 1976], "nice": false, "zero": false}, "axis": {"values": [300, 800, 1300, 1800], "format": "d", "labelOverlap": false, "labelFont": "Liberation Serif", "labelFontSize": 17, "titleFont": "Liberation Serif", "titleFontSize": 20, "title": "C/S", "labelPadding": 9, "titlePadding": 35}}}}
          ]
        }
      ]
    },
    {
      "spacing": 36,
      "vconcat": [
        {
          "spacing": 0,
          "vconcat": [
            {"width": 1, "height": 1, "data": {"values": [{}]}, "mark": {"type": "rect", "opacity": 0}},
            {
              "width": 330, "height": 172,
              "title": {"text": "(b)", "dx": -105, "offset": -16},
              "data": {"name": "b"},
              "encoding": {"x": {"field": "E", "type": "quantitative", "scale": {"domain": [704, 720], "nice": false, "zero": false},
                "axis": {"values": [704, 709, 714, 719], "format": "d", "labelOverlap": false, "labelFont": "Liberation Serif", "labelFontSize": 17, "titleFont": "Liberation Serif", "titleFontSize": 21, "title": "Binding Energy(eV)", "offset": -16.7, "labelPadding": 26, "titlePadding": 10}}},
              "layer": [
                {"mark": {"type": "line", "strokeWidth": 1.1}, "encoding": {"y": {"field": "obs", "type": "quantitative", "scale": {"domain": [-35, 2000], "nice": false, "zero": false}, "axis": {"values": [300, 800, 1300, 1800], "format": "d", "labelOverlap": false, "labelFont": "Liberation Serif", "labelFontSize": 17, "titleFont": "Liberation Serif", "titleFontSize": 20, "title": "C/S", "labelPadding": 12, "titlePadding": 12}}}},
                {"mark": {"type": "line", "strokeWidth": 3.5, "strokeDash": [3.5, 3], "interpolate": "monotone"}, "encoding": {"y": {"field": "p1", "type": "quantitative", "scale": {"domain": [-35, 2000], "nice": false, "zero": false}, "axis": {"values": [300, 800, 1300, 1800], "format": "d", "labelOverlap": false, "labelFont": "Liberation Serif", "labelFontSize": 17, "titleFont": "Liberation Serif", "titleFontSize": 20, "title": "C/S", "labelPadding": 12, "titlePadding": 12}}}},
                {"mark": {"type": "line", "strokeWidth": 2.8, "interpolate": "monotone"}, "encoding": {"y": {"field": "p2", "type": "quantitative", "scale": {"domain": [-35, 2000], "nice": false, "zero": false}, "axis": {"values": [300, 800, 1300, 1800], "format": "d", "labelOverlap": false, "labelFont": "Liberation Serif", "labelFontSize": 17, "titleFont": "Liberation Serif", "titleFontSize": 20, "title": "C/S", "labelPadding": 12, "titlePadding": 12}}}}
              ]
            }
          ]
        },
        {
          "width": 330, "height": 152,
          "title": {"text": "(d)", "dx": -98, "offset": -30},
          "data": {"name": "d"},
          "encoding": {"x": {"field": "E", "type": "quantitative", "scale": {"domain": [704, 720], "nice": false, "zero": false},
            "axis": {"values": [704, 709, 714, 719], "format": "d", "labelOverlap": false, "labelFont": "Liberation Serif", "labelFontSize": 17, "titleFont": "Liberation Serif", "titleFontSize": 21, "title": "Binding Energy(eV)", "offset": -7.6, "labelPadding": 24, "titlePadding": 10}}},
          "layer": [
            {"mark": {"type": "line", "strokeWidth": 1.1}, "encoding": {"y": {"field": "obs", "type": "quantitative", "scale": {"domain": [140, 4150], "nice": false, "zero": false}, "axis": {"values": [800, 1800, 2800, 3800], "format": "d", "labelOverlap": false, "labelFont": "Liberation Serif", "labelFontSize": 17, "titleFont": "Liberation Serif", "titleFontSize": 20, "title": "C/S", "labelPadding": 6, "titlePadding": 18}}}},
            {"mark": {"type": "line", "strokeWidth": 3.5, "strokeDash": [3.5, 3], "interpolate": "monotone"}, "encoding": {"y": {"field": "p1", "type": "quantitative", "scale": {"domain": [140, 4150], "nice": false, "zero": false}, "axis": {"values": [800, 1800, 2800, 3800], "format": "d", "labelOverlap": false, "labelFont": "Liberation Serif", "labelFontSize": 17, "titleFont": "Liberation Serif", "titleFontSize": 20, "title": "C/S", "labelPadding": 6, "titlePadding": 18}}}},
            {"mark": {"type": "line", "strokeWidth": 2.8, "interpolate": "monotone"}, "encoding": {"y": {"field": "p2", "type": "quantitative", "scale": {"domain": [140, 4150], "nice": false, "zero": false}, "axis": {"values": [800, 1800, 2800, 3800], "format": "d", "labelOverlap": false, "labelFont": "Liberation Serif", "labelFontSize": 17, "titleFont": "Liberation Serif", "titleFontSize": 20, "title": "C/S", "labelPadding": 6, "titlePadding": 18}}}}
          ]
        },
        {
          "width": 330, "height": 159,
          "title": {"text": "(f)", "dx": -93, "offset": -27},
          "data": {"name": "f"},
          "encoding": {"x": {"field": "E", "type": "quantitative", "scale": {"domain": [704, 720], "nice": false, "zero": false},
            "axis": {"values": [704, 709, 714, 719], "format": "d", "labelOverlap": false, "labelFont": "Liberation Serif", "labelFontSize": 17, "titleFont": "Liberation Serif", "titleFontSize": 21, "title": "Binding Energy(eV)", "offset": -15.5, "labelPadding": 24, "titlePadding": 9}}},
          "layer": [
            {"mark": {"type": "line", "strokeWidth": 1.1}, "encoding": {"y": {"field": "obs", "type": "quantitative", "scale": {"domain": [-33, 1967], "nice": false, "zero": false}, "axis": {"values": [300, 800, 1300, 1800], "format": "d", "labelOverlap": false, "labelFont": "Liberation Serif", "labelFontSize": 17, "titleFont": "Liberation Serif", "titleFontSize": 20, "title": "C/S", "labelPadding": 8, "titlePadding": 16}}}},
            {"mark": {"type": "line", "strokeWidth": 3.5, "strokeDash": [3.5, 3], "interpolate": "monotone"}, "encoding": {"y": {"field": "p1", "type": "quantitative", "scale": {"domain": [-33, 1967], "nice": false, "zero": false}, "axis": {"values": [300, 800, 1300, 1800], "format": "d", "labelOverlap": false, "labelFont": "Liberation Serif", "labelFontSize": 17, "titleFont": "Liberation Serif", "titleFontSize": 20, "title": "C/S", "labelPadding": 8, "titlePadding": 16}}}},
            {"mark": {"type": "line", "strokeWidth": 2.8, "interpolate": "monotone"}, "encoding": {"y": {"field": "p2", "type": "quantitative", "scale": {"domain": [-33, 1967], "nice": false, "zero": false}, "axis": {"values": [300, 800, 1300, 1800], "format": "d", "labelOverlap": false, "labelFont": "Liberation Serif", "labelFontSize": 17, "titleFont": "Liberation Serif", "titleFontSize": 20, "title": "C/S", "labelPadding": 8, "titlePadding": 16}}}}
          ]
        },
        {
          "width": 330, "height": 160,
          "title": {"text": "(h)", "dx": -98, "offset": -30},
          "data": {"name": "h"},
          "encoding": {"x": {"field": "E", "type": "quantitative", "scale": {"domain": [704, 720], "nice": false, "zero": false},
            "axis": {"values": [704, 709, 714, 719], "format": "d", "labelOverlap": false, "labelFont": "Liberation Serif", "labelFontSize": 17, "titleFont": "Liberation Serif", "titleFontSize": 21, "title": "Binding Energy(eV)", "offset": -9.4, "labelPadding": 18, "titlePadding": 17}}},
          "layer": [
            {"mark": {"type": "line", "strokeWidth": 1.1}, "encoding": {"y": {"field": "obs", "type": "quantitative", "scale": {"domain": [70, 3050], "nice": false, "zero": false}, "axis": {"values": [300, 800, 1300, 1800, 2300, 2800], "format": "d", "labelOverlap": false, "labelFont": "Liberation Serif", "labelFontSize": 17, "titleFont": "Liberation Serif", "titleFontSize": 20, "title": "C/S", "labelPadding": 9, "titlePadding": 15}}}},
            {"mark": {"type": "line", "strokeWidth": 3.5, "strokeDash": [3.5, 3], "interpolate": "monotone"}, "encoding": {"y": {"field": "p1", "type": "quantitative", "scale": {"domain": [70, 3050], "nice": false, "zero": false}, "axis": {"values": [300, 800, 1300, 1800, 2300, 2800], "format": "d", "labelOverlap": false, "labelFont": "Liberation Serif", "labelFontSize": 17, "titleFont": "Liberation Serif", "titleFontSize": 20, "title": "C/S", "labelPadding": 9, "titlePadding": 15}}}},
            {"mark": {"type": "line", "strokeWidth": 2.8, "interpolate": "monotone"}, "encoding": {"y": {"field": "p2", "type": "quantitative", "scale": {"domain": [70, 3050], "nice": false, "zero": false}, "axis": {"values": [300, 800, 1300, 1800, 2300, 2800], "format": "d", "labelOverlap": false, "labelFont": "Liberation Serif", "labelFontSize": 17, "titleFont": "Liberation Serif", "titleFontSize": 20, "title": "C/S", "labelPadding": 9, "titlePadding": 15}}}}
          ]
        }
      ]
    }
  ],
  "spacing": 31
}
